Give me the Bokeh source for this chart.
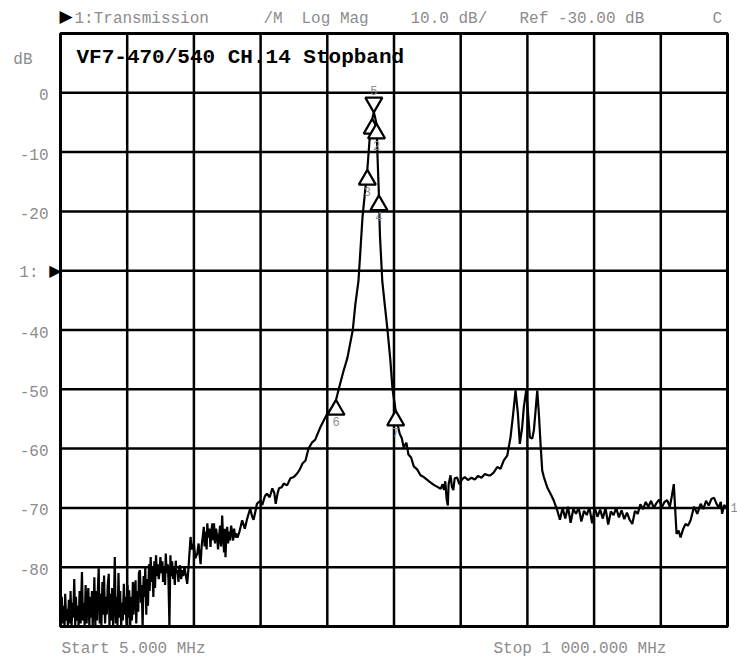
from bokeh.plotting import figure
from bokeh.models import Range1d, Label
from bokeh.core.properties import value
from bokeh.embed import file_html
from bokeh.resources import INLINE

# ---------------- data ----------------
freq_mhz = [
    5, 6, 7, 8, 9.5, 11, 12, 13.5, 15, 16, 17.5, 19, 20, 21.5, 23, 24, 25.5, 27, 28, 29.5,
    31, 32, 33.5, 35, 36, 37, 38.5, 40, 41, 42.5, 44, 45, 46.5, 48, 49, 50.5, 52, 53, 54.5, 55.5,
    57, 58, 59.5, 61, 62, 63.5, 65, 66, 67.5, 69, 70, 71.5, 73, 74, 75.5, 77, 78, 79.5, 81, 82,
    83.5, 85, 86, 87.5, 89, 90, 91.5, 93, 94, 95.5, 97, 98, 99.5, 101, 102, 103.5, 105, 106, 107.5, 109,
    110, 111.5, 113, 114, 115.5, 117, 118, 119.5, 121, 122, 123.5, 125, 126, 127.5, 129, 130, 131.5, 133, 134, 135.5,
    137, 138, 139.5, 141, 142, 143.5, 145, 146, 147.5, 149, 150, 151.5, 153, 154, 155.5, 157, 158, 159.5, 161, 162,
    163.5, 165, 166, 167.5, 169, 170, 171.5, 173, 174, 175.5, 177, 178, 179.5, 181, 182, 183.5, 185, 186.5, 188, 190,
    194, 196, 199, 201, 204, 206, 209,
    211, 212.5, 214, 215.5, 217, 218.8, 220, 221.5, 223, 224, 225.5, 227, 228.8, 230, 231.5, 233, 234, 235.5, 237, 238.5,
    240, 241.5, 243, 244.5, 246.2, 247.5, 249, 250, 251.1, 252.5, 253.7, 255, 256.5, 258, 259.5, 261, 262.5, 264, 265.5, 267,
    269, 272, 276, 280, 283.5, 288, 291, 293, 296, 298, 303, 306, 310, 313, 317, 321, 324,
    326, 329, 331, 335, 338, 343, 348, 353, 358, 362, 366, 370.5, 375, 380, 385, 393, 403, 410, 416, 420,
    427, 433, 441, 445, 449.5, 453, 455.5, 459, 462.7, 466, 470, 472.4, 474, 476.4, 478, 480, 481.5, 485, 489, 492.8,
    497, 500.3, 505, 508, 511, 514, 517, 521, 524, 528, 532, 537, 542, 547, 552.5, 558, 563, 568, 572, 575,
    577, 579, 581, 582.8, 584, 586.8, 589, 591, 593, 596.7, 600, 604, 608, 613, 618, 623, 628, 633, 638, 643,
    646.5, 651.4, 656.5, 661.4, 666.3, 671.4, 676.3, 680.3, 683.8, 687.3, 690.2, 693.7, 696.2, 699.7, 702.2, 705.2, 708.7, 711.2, 713.7, 716.2,
    718.6, 721.1, 723.6, 726.1, 731, 736, 741, 746, 750, 754, 758, 762, 766, 770, 774, 778, 782, 786, 790, 794,
    798, 802, 806, 810, 814, 818, 822, 826, 830, 834, 838, 842, 846, 850, 854, 858, 862, 866, 870, 874,
    878, 882, 886, 890, 894, 898, 902, 906, 910, 914, 917, 919.9, 924, 927, 930, 934, 937.4, 941, 945, 950,
    955, 960, 964, 968, 972, 976, 980, 984, 987, 990, 992, 995, 997, 1000,
]
trace_db = [
    -83.4, -88, -85, -89.5, -86.5, -90, -84.5, -89, -87, -90, -85.5, -89.5, -84, -90, -86, -88.5, -82, -90, -85, -89,
    -86.5, -90, -84, -89.5, -85, -80.8, -89, -86, -90, -83, -89.5, -86, -83.5, -90, -85, -88.5, -84, -90, -86.5, -81.7,
    -90, -84, -89, -83, -80.2, -89.5, -84.5, -90, -82.5, -88, -81.4, -89.5, -85, -88, -83, -81.1, -90, -84.5, -89, -83.5,
    -90, -84, -78.3, -89.5, -85, -90, -81, -88.5, -84, -90, -86, -89, -82.8, -88, -85, -90, -83, -88.5, -83.9, -90,
    -85, -89, -82.5, -88, -84, -82.2, -89.5, -84, -87.5, -81, -80.5, -86, -83, -90, -81.5, -85, -80, -88, -82, -86.5,
    -79.5, -84, -78.3, -82.5, -80, -85, -79, -83.5, -78, -81.5, -79.5, -82, -80.5, -78.3, -81, -79, -82.5, -80, -83, -77.7,
    -81, -79.5, -82, -90, -78, -81.5, -79, -82, -80, -83, -78.9, -81, -80.5, -82.5, -80, -79.7, -82, -80.5, -81.5, -80,
    -82.8, -80, -74.9, -77, -76, -78.5, -77.7,
    -76, -78, -79.5, -76.5, -75, -73.2, -76.5, -74, -77, -72.6, -75, -73.5, -76.6, -74, -72.6, -75.5, -72.6, -76, -73.5, -74.5,
    -77, -75, -73, -76.5, -71.3, -75, -77.5, -73.5, -78.3, -74.5, -73.2, -76, -74, -75.5, -73, -74, -75.5, -73.5, -75, -74.3,
    -75, -74, -72.1, -73.5, -71.8, -70.1, -71.5, -72, -70.5, -69.3, -68.8, -69.5, -68, -67.6, -68.2, -66.7, -67.5,
    -69.3, -67.5, -66.7, -66.5, -65.9, -66.2, -65, -64.8, -64.2, -63.5, -62.5, -62, -60, -59, -58.5, -56.3, -54.1, -53, -51.8, -50,
    -47, -44.7, -40, -35.5, -31.7, -25.5, -21, -17, -13, -8, -4.4, -3.3, -4, -5.2, -11, -17.3, -24, -31.7, -36, -40,
    -45, -50, -53.6, -56, -57.5, -58.2, -59.8, -59, -61, -61.5, -63, -63.5, -64.5, -64.8, -65.3, -65.8, -66.2, -66.5, -66.8, -66,
    -67, -65.5, -68.5, -69.6, -66, -64.5, -66.5, -67, -65, -64.9, -66, -65.2, -64.8, -65.3, -64.9, -65.2, -64.6, -64.9, -64.3, -64.5,
    -64.5, -64, -63.1, -63.4, -62, -61.2, -58.1, -54.1, -50.2, -54.1, -59.2, -56.4, -53, -50.2, -53.6, -58.1, -58.3, -56.9, -53.6, -50.2,
    -54.1, -59.2, -63.7, -64.8, -66.5, -67.6, -68.8, -70.4, -72, -70, -71.8, -69.8, -72.5, -70.2, -71, -70, -72.3, -70.5, -71.2, -69.9,
    -72.6, -70, -71.5, -70.3, -71.8, -70, -72.8, -70.6, -71.2, -70, -71.6, -70.4, -71.9, -70.8, -72, -72.7, -70.5, -71, -69.4, -70.2,
    -69, -69.8, -68.8, -70, -69.2, -68.6, -69.9, -69, -68.7, -69.8, -68, -66, -74.4, -73.8, -75, -73.5, -72.7, -73, -72.1, -69.8,
    -71, -69.3, -70.2, -68.8, -69.6, -68.5, -68.3, -69.4, -69.9, -69, -71, -69.5, -69.8, -70,
]
if len(freq_mhz) != len(trace_db):
    raise SystemExit("length mismatch %d %d" % (len(freq_mhz), len(trace_db)))

up_marker_mhz = [470, 476.4, 462.7, 480, 416, 505]
up_marker_db = [-4.4, -5.2, -13, -17.3, -51.8, -53.6]
up_marker_text = ["", "2", "3", "4", "6", "7"]
down_marker_mhz = [472.4]
down_marker_db = [-3.3]
down_marker_text = ["5"]

start_mhz, stop_mhz = 5.0, 1000.0
ref_db, db_per_div = -30.0, 10.0
y_tick_values = [0, -10, -20, -30, -40, -50, -60, -70, -80]
y_tick_overrides = {-30: "1:"}
title_text = "VF7-470/540 CH.14 Stopband"
header_texts = ["1:Transmission", "/M", "Log Mag", "10.0 dB/", "Ref -30.00 dB", "C"]
start_text = "Start 5.000 MHz"
stop_text = "Stop 1 000.000 MHz"

# ---------------- layout ----------------
W, H = 737, 660
BOX_LEFT, BOX_TOP, BOX_W, BOX_H = 60, 33, 667, 593
N_DIV = 10
y_top = ref_db + 4 * db_per_div
y_bot = ref_db - 6 * db_per_div

def mhz_at(px):
    return start_mhz + (px - BOX_LEFT) / BOX_W * (stop_mhz - start_mhz)

def db_at(py):
    return y_top - (py - BOX_TOP) / BOX_H * (y_top - y_bot)

GRAY = "#8c8c8c"
MONO = "Liberation Mono"

p = figure(width=W, height=H,
           x_range=Range1d(mhz_at(0), mhz_at(W)), y_range=Range1d(db_at(H), db_at(0)),
           x_axis_location=None, y_axis_location=None,
           output_backend="svg", toolbar_location=None, min_border=0)
p.background_fill_color = "white"
p.border_fill_color = "white"
p.outline_line_color = None
p.grid.grid_line_color = None

# graticule
step = (stop_mhz - start_mhz) / N_DIV
x_grid = [start_mhz + k * step for k in range(1, N_DIV)]
p.segment(x0=x_grid, y0=[y_bot] * len(x_grid), x1=x_grid, y1=[y_top] * len(x_grid),
          line_color="black", line_width=2.5)
p.segment(x0=[start_mhz] * len(y_tick_values), y0=y_tick_values,
          x1=[stop_mhz] * len(y_tick_values), y1=y_tick_values,
          line_color="black", line_width=2.5)
p.quad(left=[start_mhz], right=[stop_mhz], bottom=[y_bot], top=[y_top],
       fill_color=None, line_color="black", line_width=3)

# y tick labels (the reference-level label sits left, beside its arrow)
tick_text = [y_tick_overrides.get(v, str(v)) for v in y_tick_values]
tick_dx = [-22 if v in y_tick_overrides else -12 for v in y_tick_values]
p.text(x=[start_mhz] * len(y_tick_values), y=y_tick_values, text=tick_text,
       text_font=value(MONO), text_font_size="16px", text_color=GRAY,
       text_align="right", text_baseline="middle", x_offset=tick_dx, y_offset=2)

# trace
p.line(freq_mhz, trace_db, line_color="black", line_width=2.2)

# markers
MS = 17
db_per_px = (y_top - y_bot) / BOX_H
apex = 0.577 * MS
up_center = [d - apex * db_per_px for d in up_marker_db]
down_center = [d + apex * db_per_px for d in down_marker_db]
p.scatter(up_marker_mhz, up_center, marker="triangle", size=MS,
          fill_color="white", line_color="black", line_width=2.2)
p.scatter(down_marker_mhz, down_center, marker="inverted_triangle", size=MS,
          fill_color="white", line_color="black", line_width=2.2)
p.text(up_marker_mhz, up_marker_db, text=up_marker_text, text_font=value(MONO),
       text_font_size="12px", text_color=GRAY, text_align="center",
       text_baseline="top", y_offset=17)
p.text(down_marker_mhz, down_marker_db, text=down_marker_text, text_font=value(MONO),
       text_font_size="12px", text_color=GRAY, text_align="center",
       text_baseline="bottom", y_offset=-17)

# texts
def add_label(px, py, txt, size="16px", color=GRAY, font=MONO, align="left", style="normal"):
    p.add_layout(Label(x=mhz_at(px), y=db_at(py), text=txt, text_font=font,
                       text_font_size=size, text_color=color, text_align=align,
                       text_baseline="middle", text_font_style=style))

add_label(59, 15, "\u25B6", size="17px", color="black", font="DejaVu Sans")
header_x = [74, 263, 301, 410, 519, 712]
for hx, ht in zip(header_x, header_texts):
    add_label(hx, 18, ht)
add_label(76, 57, title_text, size="21px", color="black", style="bold")
add_label(32, 59, "dB", size="16px", align="right")
add_label(61, 270, "\u25B6", size="16px", color="black", font="DejaVu Sans", align="right")
add_label(61, 648, start_text)
add_label(493, 648, stop_text)
p.add_layout(Label(x=stop_mhz, y=trace_db[-1], x_offset=3, text="1", text_font=MONO,
                   text_font_size="12px", text_color=GRAY, text_baseline="middle"))

open("out.html", "w").write(file_html(p, INLINE))
